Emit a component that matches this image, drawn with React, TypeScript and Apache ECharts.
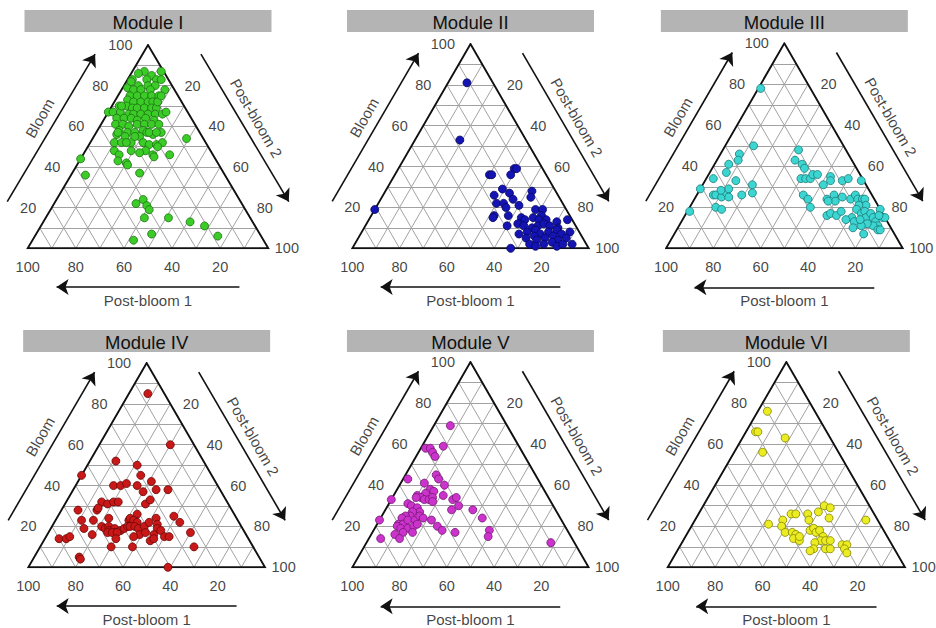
import React, { useEffect, useRef } from "react";
import * as echarts from "echarts";

// Each point: [Bloom, Post-bloom 1, Post-bloom 2] (percent)
type Comp = [number, number, number];

const moduleNames = ["Module I", "Module II", "Module III", "Module IV", "Module V", "Module VI"];
const axisNames = ["Bloom", "Post-bloom 1", "Post-bloom 2"];
const bloomTicks = [20, 40, 60, 80, 100];
const postBloom2Ticks = [20, 40, 60, 80, 100];
const postBloom1Ticks = [100, 80, 60, 40, 20];
const gridSteps = [10, 20, 30, 40, 50, 60, 70, 80, 90];

const moduleI: Comp[] = [
  [87, 8, 5], [87, 1, 12], [85, 6, 9], [83, 9, 8], [83, 15, 2], [83, 5, 12], [83, 3, 14], [80, 14, 6],
  [80, 10, 10], [80, 7, 13], [79, 19, 2], [78, 17, 5], [78, 14, 8], [78, 10, 12], [78, 4, 18], [75, 20, 5],
  [75, 17, 8], [75, 14, 11], [75, 11, 14], [75, 8, 17], [73, 22, 5], [72, 20, 8], [72, 17, 11], [72, 14, 14],
  [72, 12, 16], [70, 27, 3], [70, 24, 6], [69, 22, 9], [69, 20, 11], [69, 17, 14], [69, 14, 17], [69, 12, 19],
  [67, 33, 0], [67, 31, 2], [67, 28, 5], [66, 25, 9], [66, 23, 11], [66, 20, 14], [66, 17, 17], [66, 14, 20],
  [64, 31, 5], [64, 28, 8], [64, 25, 11], [63, 23, 14], [64, 19, 17], [63, 16, 21], [66, 11, 23], [61, 33, 6],
  [61, 30, 9], [60, 28, 12], [61, 24, 15], [61, 21, 18], [61, 18, 21], [61, 15, 24], [58, 33, 9], [57, 30, 13],
  [57, 27, 16], [58, 23, 19], [57, 22, 21], [56, 35, 9], [55, 32, 13], [55, 26, 19], [56, 20, 24], [57, 16, 27],
  [54, 7, 39], [52, 38, 10], [52, 35, 13], [52, 31, 17], [52, 26, 22], [51, 24, 25], [51, 21, 28], [52, 18, 30],
  [48, 40, 12], [46, 39, 15], [48, 33, 19], [48, 27, 25], [46, 25, 29], [46, 18, 36], [47, 30, 23], [42, 38, 20],
  [44, 56, 0], [36, 58, 6], [37, 35, 28], [22, 44, 34], [24, 40, 36], [21, 40, 39], [19, 40, 41], [15, 44, 41],
  [15, 34, 51], [13, 26, 61], [11, 21, 68], [7, 45, 48], [4, 54, 42], [6, 18, 76], [67, 9, 24], [43, 41, 16],
  [41, 38, 21], [45, 25, 30], [57, 34, 9], [52, 33, 15], [50, 21, 29], [55, 28, 17], [57, 21, 22], [57, 18, 25],
  [70, 26, 4], [82, 16, 2], [86, 11, 3], [72, 10, 18], [75, 7, 18],
];

const moduleII: Comp[] = [
  [81, 11, 8], [53, 28, 19], [19, 81, 0],
  [39, 12, 49], [39, 11, 50], [36, 24, 40], [36, 23, 41], [36, 15, 49], [29, 22, 49], [26, 27, 47], [27, 20, 53],
  [24, 20, 56], [28, 10, 62], [25, 12, 63], [22, 28, 50], [22, 25, 53], [20, 25, 55], [21, 19, 60], [16, 32, 52],
  [15, 33, 52], [16, 26, 58], [19, 13, 68], [19, 10, 71], [16, 12, 72], [15, 21, 64], [14, 20, 66], [15, 16, 69],
  [14, 14, 72], [14, 11, 75], [13, 7, 80], [14, 2, 84], [11, 29, 60], [12, 24, 64], [11, 22, 67], [10, 19, 71],
  [11, 16, 73], [12, 13, 75], [11, 11, 78], [10, 8, 82], [7, 26, 67], [8, 22, 70], [9, 18, 73], [7, 17, 76],
  [8, 13, 79], [9, 9, 82], [7, 8, 85], [8, 4, 88], [5, 24, 71], [6, 20, 74], [4, 20, 76], [5, 16, 79],
  [6, 12, 82], [4, 11, 85], [5, 7, 88], [2, 24, 74], [1, 22, 77], [2, 18, 80], [3, 14, 83], [1, 13, 86],
  [2, 10, 88], [2, 6, 92], [0, 33, 67],
];

const moduleIII: Comp[] = [
  [78, 21, 1], [50, 38, 12], [46, 46, 8], [43, 48, 9], [41, 53, 6], [37, 56, 7], [34, 63, 3], [33, 54, 13],
  [29, 71, 0], [26, 67, 7], [26, 66, 8], [25, 64, 11], [27, 61, 12], [29, 59, 12], [25, 61, 14], [26, 55, 19],
  [31, 48, 21], [27, 50, 23], [20, 69, 11], [19, 67, 14], [18, 81, 1], [28, 62, 9],
  [48, 20, 32], [43, 24, 33], [41, 22, 37], [39, 22, 39], [34, 26, 40], [34, 24, 42], [34, 22, 44], [36, 20, 44],
  [36, 18, 46], [35, 13, 52], [33, 9, 58], [34, 6, 60], [33, 1, 66], [31, 18, 51], [33, 14, 53], [26, 29, 45],
  [24, 28, 48], [20, 29, 51], [24, 20, 56], [26, 16, 58], [23, 17, 60], [25, 13, 62], [24, 10, 66], [26, 7, 67],
  [24, 7, 69], [24, 5, 71], [24, 4, 72], [21, 5, 74], [21, 8, 71], [16, 24, 60], [17, 22, 61], [16, 20, 64],
  [18, 17, 65], [15, 14, 71], [13, 14, 73], [19, 10, 71], [17, 9, 74], [18, 7, 75], [15, 8, 77], [17, 5, 78],
  [15, 5, 80], [13, 5, 82], [19, 0, 81], [15, 1, 84], [15, 0, 85], [11, 5, 84], [11, 7, 82], [12, 9, 79],
  [11, 12, 77], [10, 16, 74], [7, 13, 80], [9, 6, 85], [9, 5, 86], [14, 11, 75], [14, 17, 69], [23, 20, 57],
  [16, 2, 82],
];

const moduleIV: Comp[] = [
  [85, 7, 8], [60, 10, 30], [52, 37, 11], [50, 29, 21], [45, 55, 0], [45, 30, 25], [42, 27, 31], [40, 44, 16],
  [40, 41, 19], [41, 38, 21], [40, 34, 26], [38, 27, 35], [38, 22, 40], [37, 33, 30], [31, 35, 34], [33, 32, 35],
  [32, 53, 15], [31, 51, 18], [32, 48, 20], [32, 46, 22], [28, 57, 15], [29, 56, 15], [28, 65, 7], [26, 41, 33],
  [23, 66, 11], [23, 61, 16], [24, 54, 22], [23, 46, 31], [24, 45, 31], [23, 44, 33], [22, 43, 35], [24, 34, 42],
  [25, 26, 49], [22, 25, 53], [19, 67, 14], [16, 65, 19], [20, 59, 21], [19, 58, 23], [20, 56, 24], [18, 57, 25],
  [19, 54, 27], [17, 55, 28], [18, 52, 30], [19, 50, 31], [20, 48, 32], [20, 47, 33], [20, 45, 35], [19, 44, 37],
  [20, 41, 39], [22, 38, 40], [21, 35, 44], [19, 36, 45], [18, 35, 47], [17, 58, 25], [17, 56, 27], [17, 54, 29],
  [16, 45, 39], [17, 42, 41], [16, 39, 45], [15, 35, 50], [15, 33, 52], [15, 48, 37], [14, 56, 30], [13, 42, 45],
  [14, 40, 46], [17, 23, 60], [14, 80, 6], [14, 77, 9], [15, 75, 10], [10, 60, 30], [10, 51, 39], [10, 25, 65],
  [5, 76, 19], [4, 76, 20], [0, 41, 59],
];

const moduleV: Comp[] = [
  [69, 24, 7], [58, 40, 2], [58, 38, 4], [56, 38, 6], [54, 38, 8], [59, 32, 9], [45, 42, 13], [43, 42, 15],
  [43, 55, 2], [41, 49, 10], [40, 41, 19], [38, 48, 14], [37, 47, 16], [36, 51, 13], [35, 55, 10], [34, 54, 12],
  [33, 53, 14], [33, 51, 16], [34, 49, 17], [32, 50, 18], [34, 56, 10], [35, 44, 21], [33, 41, 26], [34, 39, 27],
  [33, 67, 0], [31, 61, 8], [30, 60, 10], [29, 58, 13], [27, 58, 15], [27, 61, 12], [25, 63, 12], [25, 65, 10],
  [24, 67, 9], [21, 70, 9], [21, 68, 11], [23, 65, 12], [23, 62, 15], [25, 59, 16], [24, 58, 18], [20, 71, 9],
  [19, 70, 11], [19, 67, 14], [20, 64, 16], [21, 62, 17], [23, 77, 0], [23, 55, 22], [20, 54, 26], [28, 44, 28],
  [30, 40, 30], [28, 35, 37], [24, 33, 43], [18, 53, 29], [17, 48, 35], [18, 33, 49], [15, 35, 50], [17, 70, 13],
  [16, 74, 10], [14, 73, 13], [14, 81, 5], [17, 66, 17], [12, 10, 78],
];

const moduleVI: Comp[] = [
  [76, 20, 4], [66, 30, 4], [66, 29, 5], [63, 19, 18], [56, 32, 12],
  [21, 47, 32], [23, 40, 37], [20, 42, 38], [17, 42, 41], [26, 35, 39], [26, 33, 41], [17, 39, 44], [16, 38, 46],
  [14, 40, 46], [13, 38, 49], [15, 37, 48], [26, 28, 46], [23, 29, 48], [27, 23, 50], [30, 19, 51], [29, 17, 54],
  [24, 20, 56], [23, 5, 72], [18, 31, 51], [19, 29, 52], [17, 29, 54], [18, 27, 55], [15, 27, 58], [13, 29, 58],
  [13, 27, 60], [13, 25, 62], [12, 32, 56], [9, 34, 57], [8, 36, 56], [9, 29, 62], [9, 27, 64], [11, 21, 68],
  [11, 19, 70], [9, 21, 70], [7, 21, 72],
];

const moduleData: Comp[][] = [moduleI, moduleII, moduleIII, moduleIV, moduleV, moduleVI];

// ---------- styles & layout (not data) ----------
const pointFill = ["#3ccc28", "#1414b4", "#3cd6d2", "#c81818", "#cc33cc", "#ecec22"];
const pointEdge = ["#1d7212", "#06065e", "#1a7a78", "#6a0808", "#741874", "#858500"];
const FONT = "'Liberation Sans', Arial, Helvetica, sans-serif";
const INK = "#111111";

// triangle placement in pixels: bottom-left x, baseline y, width, height
const panels = [
  { left: 27.7, bottom: 248.3, width: 240.6, height: 203.3 },
  { left: 352.3, bottom: 248.3, width: 236.4, height: 204.3 },
  { left: 666, bottom: 248.3, width: 236.7, height: 205 },
  { left: 28.3, bottom: 567.3, width: 236.7, height: 204.3 },
  { left: 352.3, bottom: 567.3, width: 236.3, height: 205.3 },
  { left: 667.7, bottom: 567.3, width: 237.3, height: 205.3 },
];
const headerTops = [10, 10, 10, 330, 330, 330];
const HEADER_W = 247;
const HEADER_H = 22;

// decoration positions in the panel's own 0-100 axis units
const arrowLeft: [number, number][] = [[-8.5, 23], [28, 95.5]];
const arrowRight: [number, number][] = [[72, 95.5], [108.5, 23]];
const arrowBottom: [number, number][] = [[88, -19], [12, -19]];
const titlePos: [number, number][] = [[5, 64], [50, -25.5], [95, 64]];

function toXY(c: Comp): [number, number] {
  const s = c[0] + c[1] + c[2];
  const b = (c[0] / s) * 100;
  const p2 = (c[2] / s) * 100;
  return [p2 + b / 2, b];
}

function buildOption() {
  const grid: any[] = [];
  const xAxis: any[] = [];
  const yAxis: any[] = [];
  const series: any[] = [];
  const graphic: any[] = [];

  panels.forEach((p, i) => {
    grid.push({ left: p.left, top: p.bottom - p.height, width: p.width, height: p.height });
    xAxis.push({ type: "value", gridIndex: i, min: 0, max: 100, show: false });
    yAxis.push({ type: "value", gridIndex: i, min: 0, max: 100, show: false });
    const ax = { xAxisIndex: i, yAxisIndex: i };

    const gridLines: any[] = [];
    gridSteps.forEach((v) => {
      gridLines.push({ coords: [toXY([v, 100 - v, 0]), toXY([v, 0, 100 - v])] });
      gridLines.push({ coords: [toXY([0, 100 - v, v]), toXY([100 - v, 0, v])] });
      gridLines.push({ coords: [toXY([0, v, 100 - v]), toXY([100 - v, v, 0])] });
    });
    series.push({
      type: "lines", coordinateSystem: "cartesian2d", ...ax, silent: true, z: 1,
      lineStyle: { color: "#a2a2a2", width: 1, opacity: 1, curveness: 0 },
      data: gridLines,
    });
    series.push({
      type: "lines", coordinateSystem: "cartesian2d", ...ax, silent: true, z: 2, polyline: true,
      lineStyle: { color: INK, width: 1.9, opacity: 1, join: "miter" },
      data: [{ coords: [toXY([0, 100, 0]), toXY([0, 0, 100]), toXY([100, 0, 0]), toXY([0, 100, 0]), toXY([0, 0, 100])] }],
    });

    // arrows
    series.push({
      type: "lines", coordinateSystem: "cartesian2d", ...ax, silent: true, z: 2, clip: false,
      symbol: ["none", "arrow"], symbolSize: 12,
      lineStyle: { color: INK, width: 1.6, opacity: 1, curveness: 0 },
      itemStyle: { color: INK },
      data: [{ coords: arrowLeft }, { coords: arrowRight }, { coords: arrowBottom }],
    });

    // points
    series.push({
      type: "scatter", ...ax, z: 5, clip: false, symbol: "circle", symbolSize: 8,
      itemStyle: { color: pointFill[i], borderColor: pointEdge[i], borderWidth: 0.8, opacity: 1 },
      data: moduleData[i].map((c) => toXY(c)),
    });

    // tick labels
    const tickLabel = { show: true, formatter: "{b}", fontSize: 14.5, fontFamily: FONT, color: INK };
    const tickData: any[] = [];
    bloomTicks.forEach((v) => tickData.push({ name: String(v), value: toXY([v, 100 - v, 0]), label: { ...tickLabel, position: "left", distance: 15 } }));
    postBloom2Ticks.forEach((v) => tickData.push({ name: String(v), value: toXY([100 - v, 0, v]), label: { ...tickLabel, position: "right", distance: v === 100 ? 6 : 12 } }));
    postBloom1Ticks.forEach((v) => tickData.push({ name: String(v), value: toXY([0, v, 100 - v]), label: { ...tickLabel, position: "bottom", distance: 11 } }));
    series.push({
      type: "scatter", ...ax, z: 3, clip: false, silent: true, symbolSize: 1,
      itemStyle: { color: "rgba(0,0,0,0)" }, data: tickData,
    });

    // axis titles
    const titleLabel = { show: true, formatter: "{b}", fontSize: 15, fontFamily: FONT, color: INK, position: "inside" };
    series.push({
      type: "scatter", ...ax, z: 3, clip: false, silent: true, symbolSize: 1,
      itemStyle: { color: "rgba(0,0,0,0)" },
      data: [
        { name: axisNames[0], value: titlePos[0], label: { ...titleLabel, rotate: 60 } },
        { name: axisNames[1], value: titlePos[1], label: { ...titleLabel } },
        { name: axisNames[2], value: titlePos[2], label: { ...titleLabel, rotate: -60 } },
      ],
    });

    // header
    const cx = p.left + p.width / 2;
    graphic.push({
      type: "group",
      children: [
        { type: "rect", shape: { x: cx - HEADER_W / 2, y: headerTops[i], width: HEADER_W, height: HEADER_H }, style: { fill: "#b4b4b4" } },
        {
          type: "text", x: cx, y: headerTops[i] + HEADER_H / 2 + 1,
          style: { text: moduleNames[i], fontSize: 18.5, fontFamily: FONT, fill: INK, align: "center", verticalAlign: "middle" },
        },
      ],
    });
  });

  return { animation: false, backgroundColor: "#ffffff", grid, xAxis, yAxis, series, graphic };
}

export default function App() {
  const ref = useRef<HTMLDivElement>(null);
  useEffect(() => {
    if (!ref.current) return;
    const chart = echarts.init(ref.current, undefined, { renderer: "svg" });
    chart.setOption(buildOption() as any);
    return () => chart.dispose();
  }, []);
  return (
    <div
      ref={ref}
      style={{ position: "fixed", left: 0, top: 0, width: 936, height: 628, background: "#fff" }}
    />
  );
}
